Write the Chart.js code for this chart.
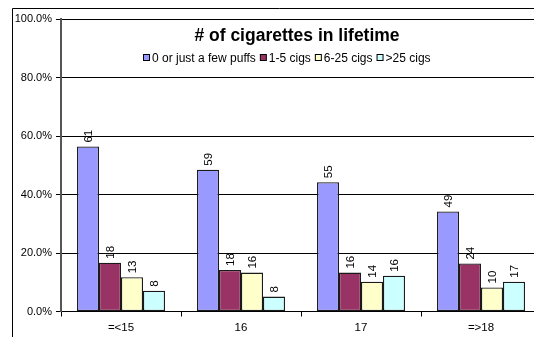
<!DOCTYPE html>
<html>
<head>
<meta charset="utf-8">
<script src="https://cdn.jsdelivr.net/npm/chart.js@4"></script>
<style>
  html, body { margin: 0; padding: 0; background: #fff; overflow: hidden; }
  #wrap { position: absolute; left: 0; top: 0; width: 546px; height: 337px; }
</style>
</head>
<body>
<div id="wrap"><canvas id="cig-chart" width="546" height="337"></canvas></div>
<script>
const ageGroups = ["=<15", "16", "17", "=>18"];
const seriesNames = ["0 or just a few puffs", "1-5 cigs", "6-25 cigs", ">25 cigs"];
const seriesColors = ["#9999ff", "#993366", "#ffffcc", "#ccffff"];

// percent of each age group (bar heights)
const fewPuffsPct = [56.4, 48.5, 44.2, 34.2];
const oneToFivePct = [16.7, 14.2, 13.3, 16.4];
const sixTo25Pct = [11.7, 13.3, 10.2, 8.2];
const over25Pct = [7.1, 5.1, 12.2, 10.2];

// counts printed above bars
const fewPuffsN = [61, 59, 55, 49];
const oneToFiveN = [18, 18, 16, 24];
const sixTo25N = [13, 16, 14, 10];
const over25N = [8, 8, 16, 17];

const yTicks = [0, 20, 40, 60, 80, 100];
const chartTitle = "# of cigarettes in lifetime";

const FONT = "'Liberation Sans', Arial, sans-serif";

const pctSeries = [fewPuffsPct, oneToFivePct, sixTo25Pct, over25Pct];
const countSeries = [fewPuffsN, oneToFiveN, sixTo25N, over25N];

/* frame, title and legend inside the plot */
const overlayPlugin = {
  id: "overlay",
  beforeDraw(chart) {
    const ctx = chart.ctx;
    ctx.save();
    ctx.strokeStyle = "#000";
    ctx.lineWidth = 1;
    ctx.beginPath();
    ctx.moveTo(12.5, chart.height);
    ctx.lineTo(12.5, 8.5);
    ctx.lineTo(chart.width, 8.5);
    ctx.stroke();
    ctx.restore();
  },
  afterDraw(chart) {
    const ctx = chart.ctx;
    ctx.save();
    ctx.fillStyle = "#000";
    ctx.font = "bold 17.5px " + FONT;
    ctx.textAlign = "center";
    ctx.textBaseline = "middle";
    ctx.fillText(chartTitle, 297, 36);

    // legend
    ctx.font = "12px " + FONT;
    ctx.textAlign = "left";
    const box = 7, gapText = 2, gapItem = 4;
    let total = 0;
    const widths = chart.data.datasets.map(ds => ctx.measureText(ds.label).width);
    widths.forEach(w => total += box + gapText + w);
    total += gapItem * (widths.length - 1);
    let x = Math.round(287 - total / 2);
    const ly = 58;
    chart.data.datasets.forEach((ds, i) => {
      ctx.fillStyle = ds.backgroundColor;
      ctx.fillRect(x + 0.5, ly - 3.5, box - 1, box - 1);
      ctx.strokeStyle = "#000";
      ctx.lineWidth = 1;
      ctx.strokeRect(x + 0.5, ly - 3.5, box - 1, box - 1);
      ctx.fillStyle = "#000";
      ctx.fillText(ds.label, x + box + gapText, ly + 0.5);
      x += box + gapText + widths[i] + gapItem;
    });

    // rotated count labels above bars
    ctx.font = "11.5px " + FONT;
    ctx.textBaseline = "middle";
    ctx.textAlign = "left";
    chart.data.datasets.forEach((ds, i) => {
      const meta = chart.getDatasetMeta(i);
      meta.data.forEach((bar, j) => {
        ctx.save();
        ctx.translate(bar.x + 0.5, bar.y - 4);
        ctx.rotate(-Math.PI / 2);
        ctx.fillStyle = "#000";
        ctx.fillText(String(countSeries[i][j]), 0, 0);
        ctx.restore();
      });
    });
    ctx.restore();
  }
};

const cigChart = new Chart(document.querySelector("#cig-chart"), {
  type: "bar",
  data: {
    labels: ageGroups,
    datasets: seriesNames.map((name, i) => ({
      label: name,
      data: pctSeries[i],
      backgroundColor: seriesColors[i],
      borderColor: "#1a1a1a",
      borderWidth: 1.3,
      borderSkipped: false,
      categoryPercentage: 0.733,
      barPercentage: 1.0,
    })),
  },
  options: {
    responsive: false,
    animation: false,
    layout: { padding: { left: 0, top: 19, right: 5, bottom: 0 } },
    plugins: {
      legend: { display: false },
      title: { display: false },
      tooltip: { enabled: false },
    },
    scales: {
      x: {
        grid: {
          display: true,
          drawOnChartArea: false,
          drawTicks: true,
          tickLength: 5,
          color: "#000",
          offset: true,
        },
        border: { color: "#000", width: 1 },
        ticks: {
          color: "#000",
          font: { family: FONT, size: 11.5 },
          padding: 4,
          maxRotation: 0,
        },
        afterFit(scale) { scale.height = 25.5; },
      },
      y: {
        min: 0,
        max: 100,
        afterBuildTicks(scale) { scale.ticks = yTicks.map(v => ({ value: v })); },
        grid: {
          color: "#000",
          lineWidth: 1,
          tickLength: 5,
        },
        border: { color: "#555", width: 2 },
        ticks: {
          color: "#000",
          font: { family: FONT, size: 11 },
          padding: 4,
          callback: v => v.toFixed(1) + "%",
        },
        afterFit(scale) { scale.width = 61; },
      },
    },
  },
  plugins: [overlayPlugin],
});
</script>
</body>
</html>
